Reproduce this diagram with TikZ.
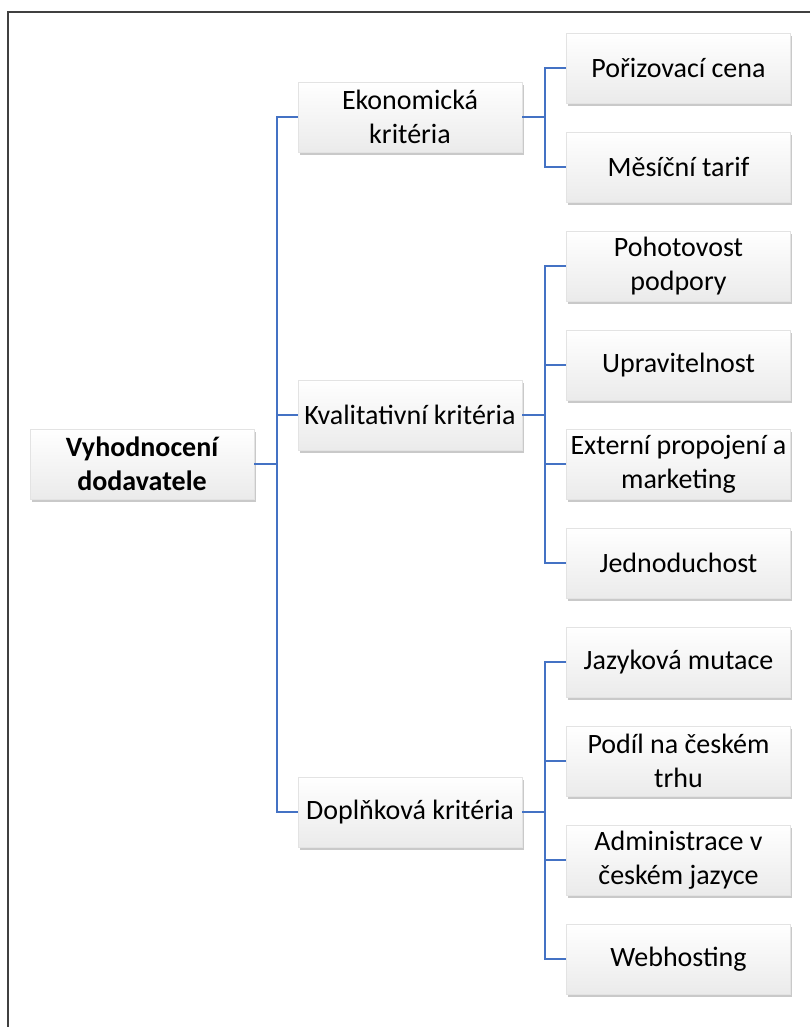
\documentclass[tikz,border=0pt]{standalone}
\usepackage{fontspec}
\setmainfont{Carlito}
\usetikzlibrary{shadows}
\definecolor{linkblue}{RGB}{68,114,196}
\definecolor{framegray}{RGB}{64,64,64}

\begin{document}
\begin{tikzpicture}[%
	x=0.5pt, y=-0.5pt,%
	item/.style ={minimum width=112pt, minimum height=35pt, inner sep=1pt, align=center,%
		font=\fontsize{14}{17}\selectfont, top color=white, bottom color=gray!16,%
		draw=gray!22, line width=0.3pt,%
		drop shadow={shadow xshift=0.8pt, shadow yshift=-1.6pt, opacity=0.5, fill=gray!85}},%
	link/.style ={linkblue, line width=0.7pt},%
	]
\useasboundingbox (0,0) rectangle (810,1027);
%%% frame
	\draw [framegray, line width=0.8pt] (8,1027) -- (8,12) -- (810,12);
%%% frame
%%% boxes
	\node [item, font=\fontsize{14}{17}\selectfont\bfseries] (root) at (142,464) {Vyhodnocení\\dodavatele};
	\node [item] (eko) at (410,117) {Ekonomická\\kritéria};
	\node [item] (kval) at (410,415) {Kvalitativní kritéria};
	\node [item] (dopl) at (410,812) {Doplňková kritéria};
	\foreach \i/\label in {1/Pořizovací cena,2/Měsíční tarif,3/Pohotovost\\podpory,4/Upravitelnost,%
		5/Externí propojení a\\marketing,6/Jednoduchost,7/Jazyková mutace,8/Podíl na českém\\trhu,%
		9/Administrace v\\českém jazyce,10/Webhosting}
		{\node [item] (c\i) at (678.5,{68+99*(\i-1)}) {\label};}
%%% boxes
%%% links
	\coordinate (j0) at (277,464);
	\coordinate (j1) at (545,117);
	\coordinate (j2) at (545,415);
	\coordinate (j3) at (545,812);
	\draw [link] (root.east) -- (j0);
	\foreach \n in {eko,kval,dopl}
		{\draw [link] (j0) |- (\n.west);}
	\draw [link] (eko.east) -- (j1);
	\draw [link] (kval.east) -- (j2);
	\draw [link] (dopl.east) -- (j3);
	\foreach \i in {1,2}
		{\draw [link] (j1) |- (c\i.west);}
	\foreach \i in {3,...,6}
		{\draw [link] (j2) |- (c\i.west);}
	\foreach \i in {7,...,10}
		{\draw [link] (j3) |- (c\i.west);}
%%% links
\end{tikzpicture}
\end{document}
